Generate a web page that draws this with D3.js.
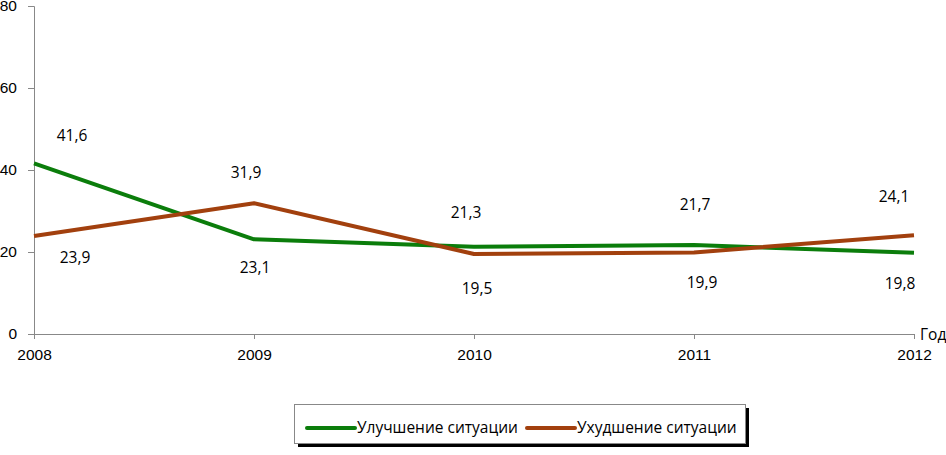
<!DOCTYPE html>
<html>
<head>
<meta charset="utf-8">
<script src="https://cdn.jsdelivr.net/npm/d3@7"></script>
<style>
  body { margin: 0; background: #fff; }
  svg { font-family: 'Open Sans', 'Noto Sans', sans-serif; }
  .axis path, .axis line { stroke: #888; }
  .axis text { fill: #000; }
</style>
</head>
<body>
<svg width="946" height="455"></svg>
<script>
// данные графика
const years = ['2008', '2009', '2010', '2011', '2012'];
const yTicks = [0, 20, 40, 60, 80];
const better = [41.6, 23.1, 21.3, 21.7, 19.8];
const worse = [23.9, 31.9, 19.5, 19.9, 24.1];
const seriesNames = ['Улучшение ситуации', 'Ухудшение ситуации'];

// смещения подписей (подобраны вручную)
const betterOffsets = [[38, -28], [1, 28], [-8, -34], [1, -40], [-14, 31]];
const worseOffsets = [[41, 22], [-8, -31], [3, 35], [8, 30], [-20, -39]];

const fontSize = 15.5;
const svg = d3.select('svg');
const colors = ['#0b7d0b', '#a2400e'];

const x = d3.scalePoint().domain(years).range([34, 914]);
const y = d3.scaleLinear().domain([0, 80]).range([334, 6]);

// ось Y
svg
  .append('g')
  .attr('class', 'axis')
  .attr('transform', 'translate(34,0)')
  .call(d3.axisLeft(y).tickValues(yTicks).tickSize(6).tickPadding(11))
  .call((g) => g.select('.domain').attr('d', 'M-6,6.5H0.5V334.5'));

// ось X
svg
  .append('g')
  .attr('class', 'axis')
  .attr('transform', 'translate(0,334)')
  .call(d3.axisBottom(x).tickSize(5).tickPadding(10).tickSizeOuter(0));

svg.selectAll('.axis .domain').attr('stroke', '#888');
svg.selectAll('.axis').attr('font-size', fontSize);

svg
  .append('text')
  .attr('x', 920)
  .attr('y', 335)
  .attr('dy', '0.35em')
  .attr('font-size', fontSize)
  .text('Год');

const line = d3
  .line()
  .x((d, i) => x(years[i]))
  .y((d) => y(d));

const all = [
  { values: better, offsets: betterOffsets, color: colors[0] },
  { values: worse, offsets: worseOffsets, color: colors[1] },
];

all.forEach((s) => {
  svg
    .append('path')
    .datum(s.values)
    .attr('d', line)
    .attr('fill', 'none')
    .attr('stroke', s.color)
    .attr('stroke-width', 4)
    .attr('stroke-linejoin', 'round');
});

// подписи значений
all.forEach((s) => {
  svg
    .append('g')
    .selectAll('text')
    .data(s.values)
    .join('text')
    .attr('x', (d, i) => x(years[i]) + s.offsets[i][0])
    .attr('y', (d, i) => y(d) + s.offsets[i][1])
    .attr('dy', '0.35em')
    .attr('text-anchor', 'middle')
    .attr('font-size', fontSize)
    .text((d) => d.toFixed(1).replace('.', ','));
});

// легенда
const legend = svg.append('g').attr('transform', 'translate(294,404)');
legend
  .append('rect')
  .attr('x', 4)
  .attr('y', 4)
  .attr('width', 451)
  .attr('height', 39)
  .attr('fill', '#000');
legend
  .append('rect')
  .attr('x', 0.5)
  .attr('y', 0.5)
  .attr('width', 451)
  .attr('height', 39)
  .attr('fill', '#fff')
  .attr('stroke', '#888');

const legendX = [13, 233];
seriesNames.forEach((name, i) => {
  legend
    .append('line')
    .attr('x1', legendX[i])
    .attr('x2', legendX[i] + 48)
    .attr('y1', 24)
    .attr('y2', 24)
    .attr('stroke', colors[i])
    .attr('stroke-width', 4)
    .attr('stroke-linecap', 'round');
  legend
    .append('text')
    .attr('x', legendX[i] + 50)
    .attr('y', 24)
    .attr('dy', '0.35em')
    .attr('font-size', fontSize)
    .text(name);
});
</script>
</body>
</html>
